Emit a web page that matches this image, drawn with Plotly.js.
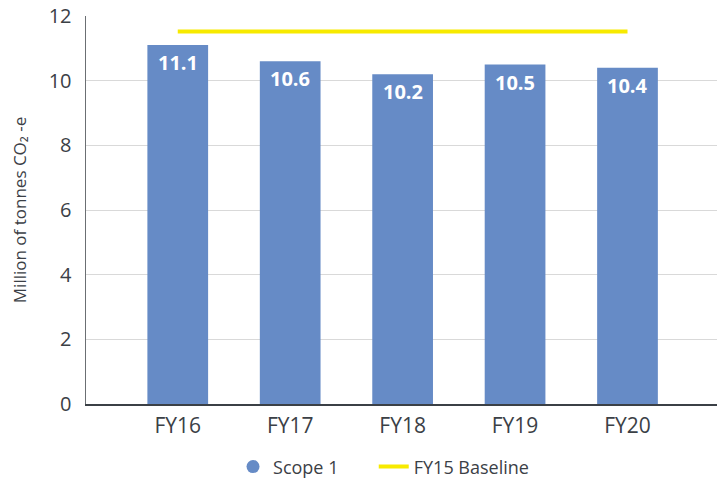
<!DOCTYPE html>
<html>
<head>
<meta charset="utf-8">
<script src="https://cdn.plot.ly/plotly-3.0.1.min.js"></script>
<style>html,body{margin:0;padding:0;background:#fff;}#chart{width:717px;height:479px;}</style>
</head>
<body>
<div id="chart"></div>
<script>
const categories = ["FY16", "FY17", "FY18", "FY19", "FY20"];
const scope1 = [11.1, 10.6, 10.2, 10.5, 10.4];
const baseline = [11.52, 11.52, 11.52, 11.52, 11.52];
const yTicks = [0, 2, 4, 6, 8, 10, 12];

const font = "'Open Sans', 'DejaVu Sans', sans-serif";
const textColor = "#3b4046";
const barColor = "#668bc6";

const traces = [
  {
    type: "bar", x: categories, y: scope1, name: "Scope 1",
    marker: {color: barColor}, width: 0.54, showlegend: false,
    hoverinfo: "x+y"
  },
  {
    type: "scatter", mode: "markers", x: [null], y: [null], name: "Scope 1",
    marker: {color: barColor, size: 13, symbol: "circle"}, legend: "legend"
  },
  {
    type: "scatter", mode: "lines", x: categories, y: baseline, name: "FY15 Baseline",
    line: {color: "#f7ea00", width: 4}, legend: "legend2"
  }
];

const annotations = categories.map((c, i) => ({
  x: c, y: scope1[i], xref: "x", yref: "y",
  text: "<b>" + scope1[i].toFixed(1) + "</b>",
  showarrow: false, yanchor: "top", yshift: -2,
  font: {family: font, size: 20, color: "#ffffff"}
}));

const legendFont = {size: 18, color: textColor};

const layout = {
  width: 717, height: 479,
  margin: {l: 86, r: 0, t: 16, b: 75, autoexpand: false},
  paper_bgcolor: "#ffffff", plot_bgcolor: "#ffffff",
  font: {family: font, color: textColor},
  xaxis: {
    type: "category", range: [-0.816, 4.796],
    showline: true, linecolor: "#3b4046", linewidth: 1.5,
    showgrid: false, ticks: "outside", ticklen: 2, tickcolor: "rgba(0,0,0,0)",
    tickfont: {size: 21, color: textColor},
    fixedrange: true
  },
  yaxis: {
    range: [0, 12], tickvals: yTicks, ticktext: yTicks.map(String),
    showline: true, linecolor: "#6b6f73", linewidth: 1.5,
    showgrid: true, gridcolor: "#d9d9d9", gridwidth: 1,
    zeroline: false, ticks: "outside", ticklen: 9, tickcolor: "rgba(0,0,0,0)",
    tickfont: {size: 20, color: textColor},
    title: {text: "Million of tonnes CO₂ -e", font: {size: 17, color: textColor}, standoff: 17}
  },
  legend: {
    orientation: "h", x: 0.233, xanchor: "left", y: -0.162, yanchor: "middle",
    font: legendFont, itemwidth: 30
  },
  legend2: {
    orientation: "h", x: 0.456, xanchor: "left", y: -0.162, yanchor: "middle",
    font: legendFont, itemwidth: 30
  },
  annotations: annotations,
  showlegend: true
};

Plotly.newPlot("chart", traces, layout, {displayModeBar: false, staticPlot: true});
</script>
</body>
</html>
